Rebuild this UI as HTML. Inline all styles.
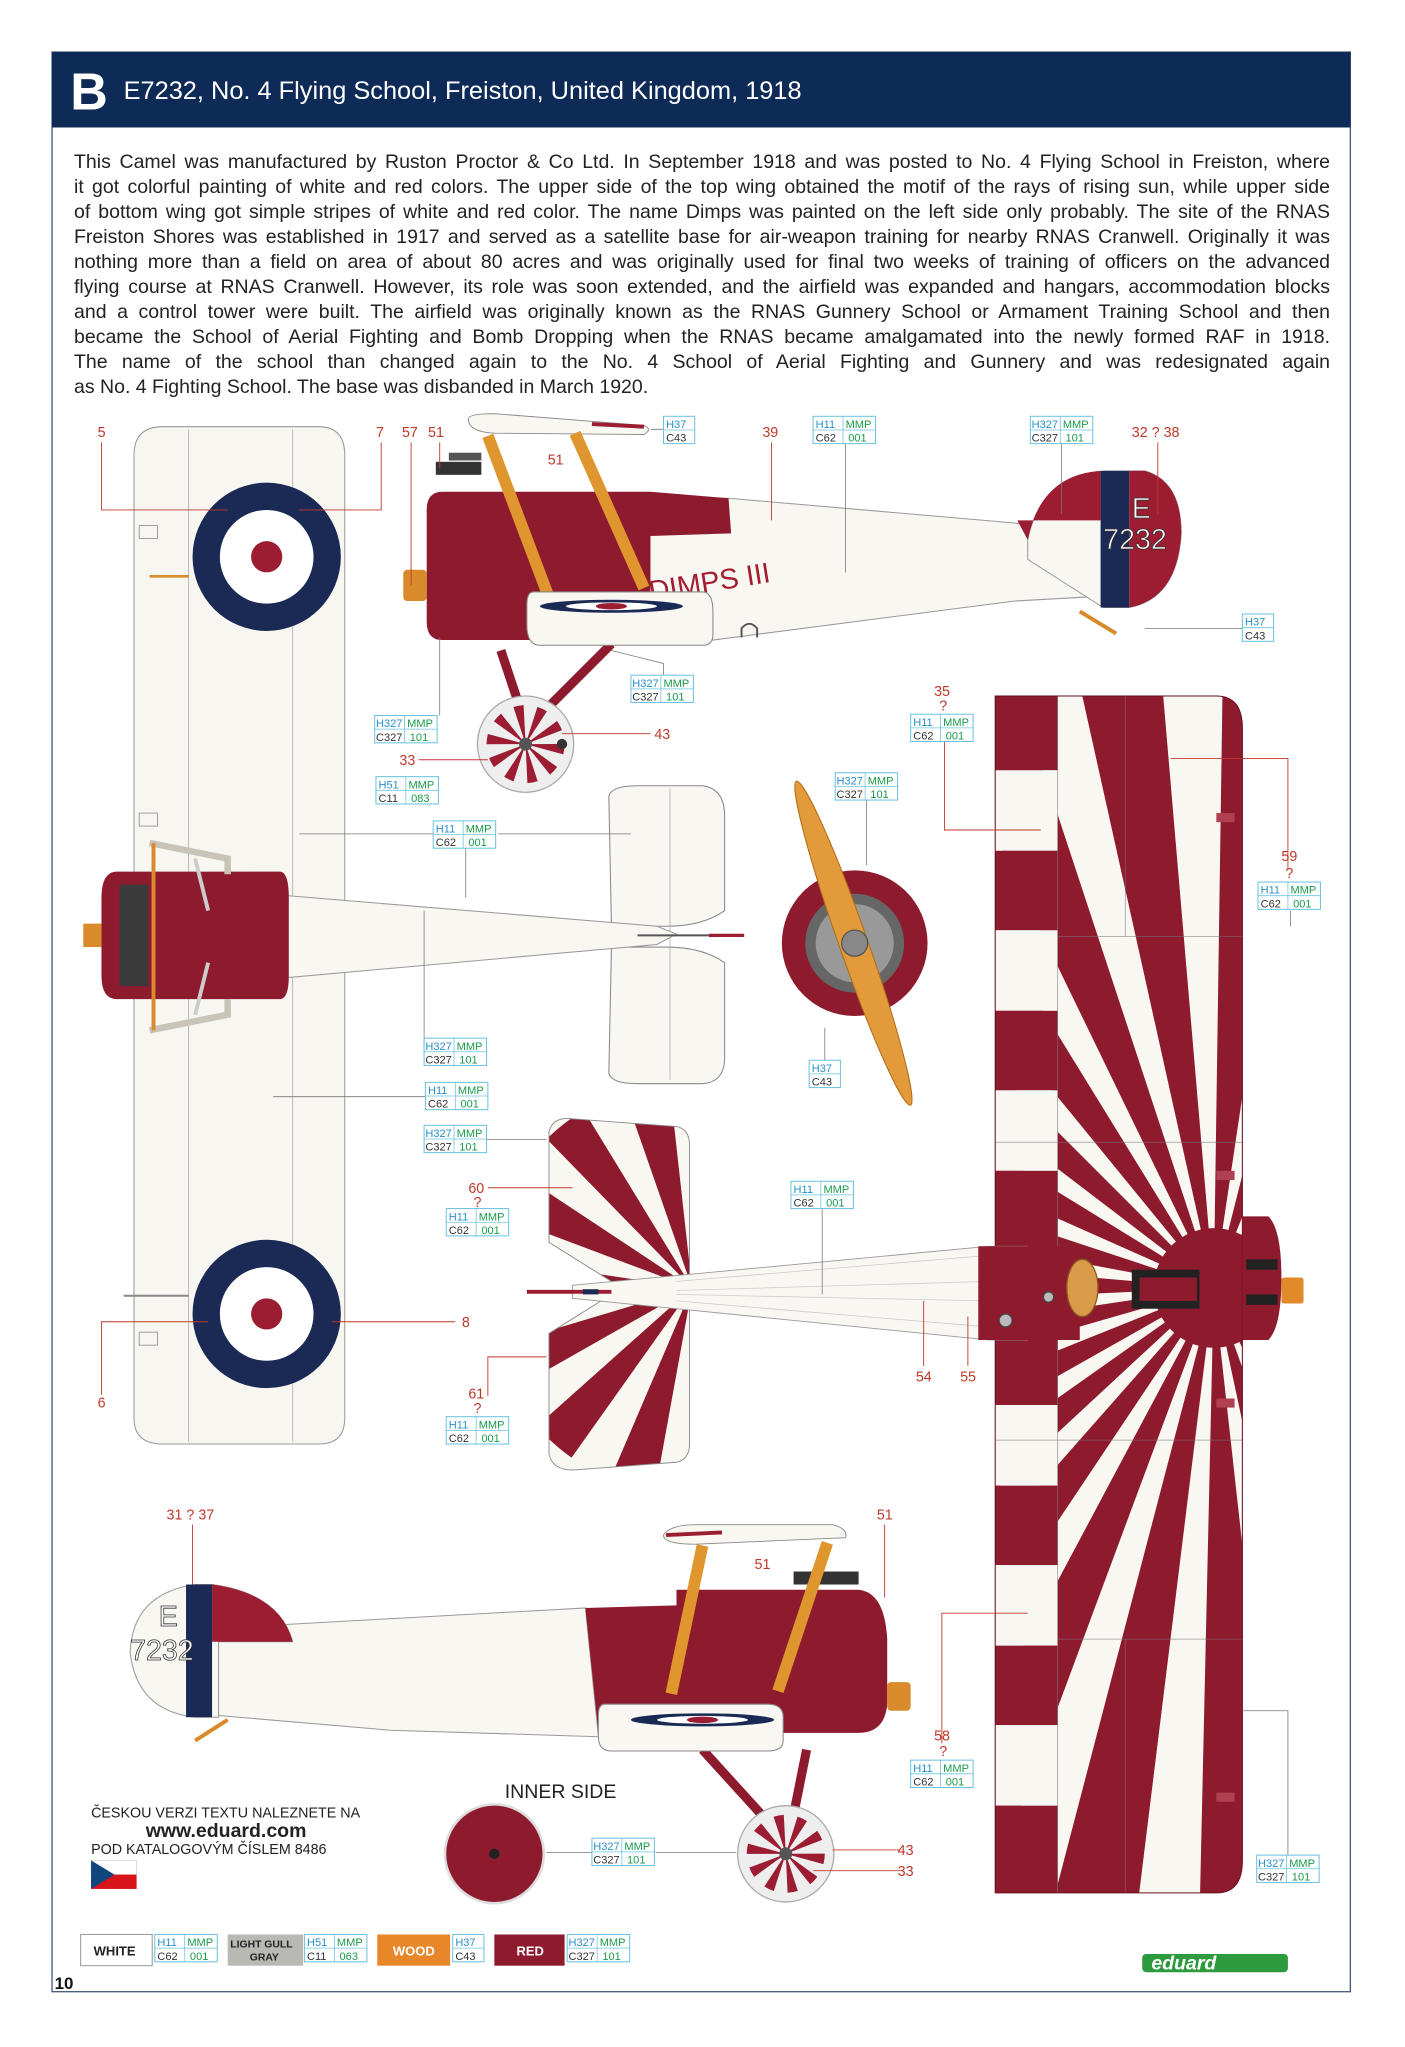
<!DOCTYPE html>
<html><head><meta charset="utf-8">
<style>
html,body{margin:0;padding:0;background:#fff;}
#wrap{position:relative;width:1405px;height:2047px;overflow:hidden;background:#fff;}
svg{position:absolute;left:0;top:0;}
#para{position:absolute;left:74px;top:150px;width:1256px;font-family:"Liberation Sans Narrow","Liberation Sans",sans-serif;font-size:19.5px;color:#222;line-height:25px;}
#para div{text-align:justify;text-align-last:justify;white-space:nowrap;}
#para div.last{text-align-last:left;}
</style></head><body><div id="wrap">
<svg width="1405" height="2047" viewBox="0 0 1080 1573.5" preserveAspectRatio="none" font-family="Liberation Sans, sans-serif">
<defs>
<clipPath id="bigwing"><path d="M765,535 H935 Q955,535 955,560 V1430 Q955,1455 935,1455 H765 Z"/></clipPath>
<clipPath id="lw1"><path d="M422,870 Q425,858 440,860 L520,866 Q530,868 530,880 V985 H470 L422,955 Z"/></clipPath>
<clipPath id="lw2"><path d="M422,1025 L470,995 H530 V1110 Q530,1122 520,1124 L440,1130 Q425,1130 422,1118 Z"/></clipPath>
<g id="cbox"><rect x="0" y="0" width="48" height="21" fill="#fff" stroke="#6cc4e0" stroke-width="0.8"/><line x1="0" y1="10.5" x2="48" y2="10.5" stroke="#6cc4e0" stroke-width="0.6"/><line x1="23" y1="0" x2="23" y2="21" stroke="#6cc4e0" stroke-width="0.6"/></g>
<g id="cbs"><rect x="0" y="0" width="24" height="21" fill="#fff" stroke="#6cc4e0" stroke-width="0.8"/><line x1="0" y1="10.5" x2="24" y2="10.5" stroke="#6cc4e0" stroke-width="0.6"/></g>
</defs>

<!-- frame & header -->
<rect x="40" y="40" width="998" height="1491" fill="none" stroke="#44557a" stroke-width="1"/>
<rect x="40" y="40" width="998" height="58" fill="#0e2a57"/>
<text x="54" y="84" fill="#fff" font-size="40" font-weight="bold">B</text>
<text x="95" y="76" fill="#fff" font-size="19.5" font-family="Liberation Sans Narrow, Liberation Sans, sans-serif">E7232, No. 4 Flying School, Freiston, United Kingdom, 1918</text>

<!-- ===== LEFT WING TOP VIEW ===== -->
<path d="M103,350 Q103,328 125,328 H245 Q265,328 265,350 V1090 Q265,1110 245,1110 H125 Q103,1110 103,1090 Z" fill="#f7f6f1" stroke="#999" stroke-width="0.8"/>
<path d="M145,330 V1108 M225,330 V1108" stroke="#aaa" stroke-width="0.6"/>
<rect x="107" y="404" width="14" height="10" fill="none" stroke="#888" stroke-width="0.6"/>
<rect x="107" y="625" width="14" height="10" fill="none" stroke="#888" stroke-width="0.6"/>
<rect x="107" y="1024" width="14" height="10" fill="none" stroke="#888" stroke-width="0.6"/>
<line x1="115" y1="443" x2="145" y2="443" stroke="#d98a2b" stroke-width="2"/>
<line x1="95" y1="996" x2="145" y2="996" stroke="#888" stroke-width="1.5"/>
<circle cx="205" cy="428" r="57" fill="#1b2a55"/><circle cx="205" cy="428" r="36" fill="#fff"/><circle cx="205" cy="428" r="12" fill="#9c1c32"/>
<circle cx="205" cy="1010" r="57" fill="#1b2a55"/><circle cx="205" cy="1010" r="36" fill="#fff"/><circle cx="205" cy="1010" r="12" fill="#9c1c32"/>

<!-- tailplane top view -->
<path d="M468,612 Q470,604 490,604 H540 Q556,606 557,625 V700 Q540,712 512,712 H470 Z" fill="#f8f7f2" stroke="#888" stroke-width="0.8"/>
<path d="M470,728 H512 Q540,728 557,740 V815 Q556,832 540,833 H490 Q470,833 468,825 Z" fill="#f8f7f2" stroke="#888" stroke-width="0.8"/>
<path d="M515,606 V830" stroke="#aaa" stroke-width="0.6"/>
<!-- fuselage top view -->
<path d="M215,688 L505,712 L520,718 L505,726 L215,752 Z" fill="#f8f7f2" stroke="#999" stroke-width="0.8"/>
<line x1="490" y1="719" x2="572" y2="719" stroke="#555" stroke-width="1.5"/>
<line x1="545" y1="719" x2="572" y2="719" stroke="#9c1c32" stroke-width="2.5"/>
<path d="M90,670 H215 Q222,670 222,690 V750 Q222,768 215,768 H90 Q78,768 78,750 V690 Q78,670 90,670 Z" fill="#8e1a2e"/>
<rect x="92" y="680" width="22" height="78" fill="#3a3a3a"/>
<rect x="64" y="710" width="14" height="18" fill="#d98a2b"/>
<path d="M115,648 L175,660 L175,672 M115,792 L175,780 L175,768" stroke="#c9c4b8" stroke-width="5" fill="none"/>
<line x1="118" y1="648" x2="118" y2="792" stroke="#d98a2b" stroke-width="3"/>
<line x1="150" y1="660" x2="160" y2="700" stroke="#ccc" stroke-width="3"/>
<line x1="150" y1="780" x2="160" y2="740" stroke="#ccc" stroke-width="3"/>

<!-- ===== TOP SIDE VIEW ===== -->
<path d="M495,384 L560,383 L780,402 L852,414 L852,458 L780,462 L548,492 L495,490 Z" fill="#f8f7f2" stroke="#999" stroke-width="0.8"/>
<path d="M340,378 H500 L560,383 L562,410 L500,412 L500,492 H340 Q328,492 328,478 V392 Q328,378 340,378 Z" fill="#8e1a2e"/>
<rect x="310" y="438" width="18" height="24" rx="3" fill="#d98a2b"/>
<rect x="335" y="355" width="35" height="10" fill="#333"/>
<rect x="345" y="348" width="25" height="6" fill="#555"/>
<text x="500" y="462" fill="#a41c30" font-size="22" transform="rotate(-9 500 462)" font-family="Liberation Sans Narrow, Liberation Sans, sans-serif">DIMPS III</text>
<path d="M360,322 Q360,318 380,318 L495,327 Q502,330 495,334 L380,333 Q360,332 360,322 Z" fill="#f8f7f2" stroke="#888" stroke-width="0.7"/>
<path d="M455,326 L495,328" stroke="#9c1c32" stroke-width="3"/>
<line x1="375" y1="335" x2="423" y2="462" stroke="#e0962e" stroke-width="9"/>
<line x1="442" y1="333" x2="495" y2="452" stroke="#e0962e" stroke-width="9"/>
<line x1="385" y1="500" x2="400" y2="545" stroke="#8e1a2e" stroke-width="7"/>
<line x1="470" y1="495" x2="420" y2="545" stroke="#8e1a2e" stroke-width="7"/>
<path d="M410,455 H540 Q548,455 548,470 V488 Q548,496 540,496 H415 Q405,496 405,480 V465 Q405,455 410,455 Z" fill="#f8f7f2" stroke="#888" stroke-width="0.8"/>
<ellipse cx="470" cy="466" rx="55" ry="5" fill="#1b2a55"/><ellipse cx="470" cy="466" rx="35" ry="3" fill="#fff"/><ellipse cx="470" cy="466" rx="12" ry="2.5" fill="#9c1c32"/>
<path d="M570,490 V483 Q576,476 582,483 V490" fill="none" stroke="#555" stroke-width="1.5"/>
<!-- wheel -->
<circle cx="404" cy="572" r="37" fill="#eee" stroke="#aaa" stroke-width="1"/>
<circle cx="404" cy="572" r="15" fill="none" stroke="#9c1c32" stroke-width="30" stroke-dasharray="4 5.4"/>
<circle cx="404" cy="572" r="5" fill="#555"/>
<circle cx="432" cy="572" r="4" fill="#333"/>
<!-- rudder -->
<path d="M790,415 Q800,365 850,362 H880 Q908,370 908,410 Q905,460 868,467 H848 L790,430 Z" fill="#f8f7f2" stroke="#999" stroke-width="0.8"/>
<path d="M790,415 Q800,365 846,362 V400 H782 Z" fill="#9c1c32"/>
<rect x="846" y="362" width="22" height="105" fill="#1b2a55"/>
<path d="M868,362 H880 Q908,370 908,410 Q905,460 868,467 Z" fill="#9c1c32"/>
<text x="870" y="398" fill="#fff" font-size="22" stroke="#333" stroke-width="0.6">E</text>
<text x="848" y="422" fill="#fff" font-size="22" stroke="#333" stroke-width="0.6" font-family="Liberation Sans Narrow, Liberation Sans, sans-serif">7232</text>
<line x1="830" y1="470" x2="858" y2="487" stroke="#d98a2b" stroke-width="3"/>

<!-- propeller front -->
<circle cx="657" cy="725" r="56" fill="#8e1a2e"/>
<circle cx="657" cy="725" r="38" fill="#666"/>
<circle cx="657" cy="725" r="30" fill="#999"/>
<ellipse cx="656" cy="725" rx="132" ry="11" fill="#e39a3a" stroke="#b06d1a" stroke-width="0.8" transform="rotate(70.6 656 725)"/>
<circle cx="657" cy="725" r="10" fill="#888" stroke="#555"/>

<!-- ===== BIG WING ===== -->
<g clip-path="url(#bigwing)">
<rect x="765" y="535" width="190" height="920" fill="#8e1a2e"/>
<circle cx="933" cy="990" r="300" fill="none" stroke="#f8f7f2" stroke-width="600" stroke-dasharray="30 40" stroke-dashoffset="12"/>
<circle cx="933" cy="990" r="46" fill="#8e1a2e"/>
<g fill="#f8f7f2">
<rect x="765" y="592" width="48" height="62"/><rect x="765" y="715" width="48" height="62"/><rect x="765" y="838" width="48" height="62"/>
<rect x="765" y="1080" width="48" height="62"/><rect x="765" y="1203" width="48" height="62"/><rect x="765" y="1326" width="48" height="62"/>
</g>
<g fill="#8e1a2e">
<rect x="765" y="535" width="48" height="57"/><rect x="765" y="654" width="48" height="61"/><rect x="765" y="777" width="48" height="61"/><rect x="765" y="900" width="48" height="180"/>
<rect x="765" y="1142" width="48" height="61"/><rect x="765" y="1265" width="48" height="61"/><rect x="765" y="1388" width="48" height="67"/>
</g>
<path d="M813,535 V1455 M865,535 V720 M865,1260 V1455 M813,720 H955 M813,1260 H955 M765,878 H955 M765,1107 H955" stroke="#777" stroke-width="0.6" opacity="0.7"/>
</g>
<path d="M765,535 H935 Q955,535 955,560 V1430 Q955,1455 935,1455 H765 Z" fill="none" stroke="#6a1020" stroke-width="0.8"/>
<rect x="935" y="625" width="14" height="7" fill="#b04050"/><rect x="935" y="900" width="14" height="7" fill="#b04050"/><rect x="935" y="1075" width="14" height="7" fill="#b04050"/><rect x="935" y="1378" width="14" height="7" fill="#b04050"/>
<path d="M955,935 H975 Q985,945 985,982 Q985,1020 975,1030 H955 Z" fill="#8e1a2e"/>
<rect x="958" y="968" width="24" height="8" fill="#222"/><rect x="958" y="995" width="24" height="8" fill="#222"/>
<rect x="985" y="982" width="17" height="20" rx="2" fill="#e08a2a"/>
<rect x="870" y="976" width="52" height="30" fill="#222"/><rect x="876" y="982" width="44" height="18" fill="#8e1a2e"/>

<!-- lower wing bottom view -->
<g clip-path="url(#lw1)"><rect x="415" y="850" width="120" height="140" fill="#f8f7f2"/><circle cx="532" cy="990" r="80" fill="none" stroke="#8e1a2e" stroke-width="160" stroke-dasharray="18 17"/></g>
<g clip-path="url(#lw2)"><rect x="415" y="990" width="120" height="145" fill="#f8f7f2"/><circle cx="532" cy="990" r="80" fill="none" stroke="#8e1a2e" stroke-width="160" stroke-dasharray="18 17"/></g>
<path d="M422,870 Q425,858 440,860 L520,866 Q530,868 530,880 V985 H470 L422,955 Z M422,1025 L470,995 H530 V1110 Q530,1122 520,1124 L440,1130 Q425,1130 422,1118 Z" fill="none" stroke="#888" stroke-width="0.7"/>
<!-- bottom fuselage -->
<path d="M440,988 L760,958 L790,958 L790,1030 L760,1030 L440,998 Z" fill="#f8f7f2" stroke="#999" stroke-width="0.7"/>
<path d="M520,985 L760,965 M520,992 L760,985 M520,995 L760,1000 M520,1000 L760,1020" stroke="#ccc" stroke-width="0.6"/>
<line x1="405" y1="993" x2="470" y2="993" stroke="#9c1c32" stroke-width="3"/><line x1="448" y1="993" x2="460" y2="993" stroke="#1b2a55" stroke-width="4"/>
<path d="M752,958 H830 V1030 H752 Z" fill="#8e1a2e"/>
<circle cx="806" cy="997" r="4" fill="#bbb" stroke="#444"/><circle cx="773" cy="1015" r="5" fill="#bbb" stroke="#444"/>
<ellipse cx="832" cy="990" rx="12" ry="22" fill="#d99a4a" stroke="#8a5a20"/>

<!-- ===== BOTTOM SIDE VIEW ===== -->
<path d="M160,1252 L450,1236 L460,1335 L300,1330 L160,1318 Z" fill="#f8f7f2" stroke="#999" stroke-width="0.8"/>
<path d="M450,1236 L520,1234 V1222 H660 Q680,1224 682,1260 V1310 Q680,1332 660,1332 H460 Z" fill="#8e1a2e"/>
<rect x="682" y="1293" width="18" height="22" rx="3" fill="#d98a2b"/>
<rect x="610" y="1208" width="50" height="10" fill="#333"/>
<path d="M510,1180 Q515,1172 535,1172 L640,1172 Q652,1175 650,1182 L535,1187 Q510,1187 510,1180 Z" fill="#f8f7f2" stroke="#888" stroke-width="0.7"/>
<path d="M512,1180 L555,1178" stroke="#9c1c32" stroke-width="3"/>
<line x1="540" y1="1188" x2="516" y2="1302" stroke="#e0962e" stroke-width="9"/>
<line x1="636" y1="1186" x2="598" y2="1300" stroke="#e0962e" stroke-width="9"/>
<line x1="540" y1="1345" x2="590" y2="1400" stroke="#8e1a2e" stroke-width="7"/>
<line x1="620" y1="1345" x2="610" y2="1395" stroke="#8e1a2e" stroke-width="7"/>
<path d="M465,1310 H590 Q602,1310 602,1320 V1338 Q602,1346 590,1346 H470 Q460,1346 460,1335 V1318 Q460,1310 465,1310 Z" fill="#f8f7f2" stroke="#888" stroke-width="0.8"/>
<ellipse cx="540" cy="1322" rx="55" ry="5" fill="#1b2a55"/><ellipse cx="540" cy="1322" rx="35" ry="3" fill="#fff"/><ellipse cx="540" cy="1322" rx="12" ry="2.5" fill="#9c1c32"/>
<circle cx="604" cy="1425" r="37" fill="#eee" stroke="#aaa"/>
<circle cx="604" cy="1425" r="15" fill="none" stroke="#9c1c32" stroke-width="30" stroke-dasharray="4 5.4"/>
<circle cx="604" cy="1425" r="5" fill="#555"/>
<!-- rudder bottom -->
<path d="M163,1218 Q215,1225 225,1262 L168,1262 L168,1320 H150 Q105,1315 100,1270 Q102,1225 150,1218 Z" fill="#f8f7f2" stroke="#999" stroke-width="0.8"/>
<path d="M163,1218 Q215,1225 225,1262 H163 Z" fill="#9c1c32"/>
<rect x="143" y="1218" width="20" height="102" fill="#1b2a55"/>
<text x="122" y="1250" fill="#fff" font-size="22" stroke="#333" stroke-width="0.6">E</text>
<text x="100" y="1276" fill="#fff" font-size="22" stroke="#333" stroke-width="0.6" font-family="Liberation Sans Narrow, Liberation Sans, sans-serif">7232</text>
<line x1="150" y1="1338" x2="175" y2="1322" stroke="#d98a2b" stroke-width="3"/>

<!-- inner side wheel -->
<text x="388" y="1382" font-size="15" fill="#222">INNER SIDE</text>
<circle cx="380" cy="1425" r="38" fill="#8e1a2e" stroke="#ddd" stroke-width="2"/>
<circle cx="380" cy="1425" r="4" fill="#222"/>

<!-- Czech text -->
<text x="70" y="1397" font-size="11" fill="#222">ČESKOU VERZI TEXTU NALEZNETE NA</text>
<text x="112" y="1412" font-size="15" font-weight="bold" fill="#222">www.eduard.com</text>
<text x="70" y="1425" font-size="11" fill="#222">POD KATALOGOVÝM ČÍSLEM 8486</text>
<rect x="70" y="1430" width="35" height="11" fill="#fff" stroke="#ccc" stroke-width="0.5"/>
<rect x="70" y="1441" width="35" height="11" fill="#d7141a"/>
<path d="M70,1430 L88,1441 L70,1452 Z" fill="#11457e"/>

<!-- ===== LEADER LINES ===== -->
<g stroke="#c0392b" stroke-width="0.7" fill="none">
<path d="M78,340 V392 H175"/><path d="M293,340 V392 H230"/><path d="M316,340 V450"/><path d="M338,340 V360"/>
<path d="M593,340 V400"/><path d="M890,340 V395"/><path d="M726,550 V638 H800"/><path d="M990,668 V583 H900"/>
<path d="M500,564 H432"/><path d="M322,584 H375"/><path d="M375,913 H440"/><path d="M350,1016 H255"/>
<path d="M78,1072 V1016 H160"/><path d="M375,1073 V1043 H420"/><path d="M148,1172 V1218"/><path d="M680,1172 V1228"/>
<path d="M724,1340 V1240 H790"/><path d="M692,1422 H640"/><path d="M692,1438 H625"/><path d="M710,1050 V1000"/><path d="M744,1050 V1012"/>
</g>
<g stroke="#777" stroke-width="0.6" fill="none">
<path d="M534,330 H500"/><path d="M650,341 V440"/><path d="M816,341 V395"/><path d="M955,483 H880"/><path d="M510,519 V510 L470,500"/>
<path d="M338,550 V490"/><path d="M666,594 V665"/><path d="M358,641 V690 M333,641 H230 M383,641 H485"/>
<path d="M992,700 V712"/><path d="M326,808 V700"/><path d="M634,815 V790"/><path d="M327,843 H210"/><path d="M374,876 H420"/>
<path d="M632,918 V995"/><path d="M355,940 V950"/><path d="M726,1365 V1370"/><path d="M504,1424 H566"/><path d="M990,1426 V1315 H955"/><path d="M420,1424 H455"/>
</g>

<!-- ===== RED NUMBERS ===== -->
<g fill="#c0392b" font-size="11">
<text x="75" y="336">5</text><text x="289" y="336">7</text><text x="309" y="336">57</text><text x="329" y="336">51</text>
<text x="421" y="357">51</text><text x="586" y="336">39</text><text x="870" y="336">32 ? 38</text>
<text x="718" y="535">35</text><text x="722" y="546">?</text><text x="503" y="568">43</text><text x="307" y="588">33</text>
<text x="985" y="662">59</text><text x="988" y="675">?</text><text x="360" y="917">60</text><text x="364" y="928">?</text>
<text x="355" y="1020">8</text><text x="75" y="1082">6</text><text x="360" y="1075">61</text><text x="364" y="1086">?</text>
<text x="704" y="1062">54</text><text x="738" y="1062">55</text><text x="128" y="1168">31 ? 37</text><text x="674" y="1168">51</text>
<text x="580" y="1206">51</text><text x="718" y="1338">58</text><text x="722" y="1350">?</text><text x="690" y="1426">43</text><text x="690" y="1442">33</text>
</g>

<!-- ===== CALLOUTS ===== -->
<g font-size="8.5" font-family="Liberation Sans, sans-serif">
<g transform="translate(510,320)"><use href="#cbs"/><text x="2" y="9" fill="#2a8fc8">H37</text><text x="2" y="19.5" fill="#333">C43</text></g>
<g transform="translate(625,320)"><use href="#cbox"/><text x="2" y="9" fill="#2a8fc8">H11</text><text x="25" y="9" fill="#1a9a4a">MMP</text><text x="2" y="19.5" fill="#333">C62</text><text x="27" y="19.5" fill="#1a9a4a">001</text></g>
<g transform="translate(792,320)"><use href="#cbox"/><text x="1" y="9" fill="#2a8fc8">H327</text><text x="25" y="9" fill="#1a9a4a">MMP</text><text x="1" y="19.5" fill="#333">C327</text><text x="27" y="19.5" fill="#1a9a4a">101</text></g>
<g transform="translate(955,472)"><use href="#cbs"/><text x="2" y="9" fill="#2a8fc8">H37</text><text x="2" y="19.5" fill="#333">C43</text></g>
<g transform="translate(485,519)"><use href="#cbox"/><text x="1" y="9" fill="#2a8fc8">H327</text><text x="25" y="9" fill="#1a9a4a">MMP</text><text x="1" y="19.5" fill="#333">C327</text><text x="27" y="19.5" fill="#1a9a4a">101</text></g>
<g transform="translate(288,550)"><use href="#cbox"/><text x="1" y="9" fill="#2a8fc8">H327</text><text x="25" y="9" fill="#1a9a4a">MMP</text><text x="1" y="19.5" fill="#333">C327</text><text x="27" y="19.5" fill="#1a9a4a">101</text></g>
<g transform="translate(700,549)"><use href="#cbox"/><text x="2" y="9" fill="#2a8fc8">H11</text><text x="25" y="9" fill="#1a9a4a">MMP</text><text x="2" y="19.5" fill="#333">C62</text><text x="27" y="19.5" fill="#1a9a4a">001</text></g>
<g transform="translate(289,597)"><use href="#cbox"/><text x="2" y="9" fill="#2a8fc8">H51</text><text x="25" y="9" fill="#1a9a4a">MMP</text><text x="2" y="19.5" fill="#333">C11</text><text x="27" y="19.5" fill="#1a9a4a">083</text></g>
<g transform="translate(642,594)"><use href="#cbox"/><text x="1" y="9" fill="#2a8fc8">H327</text><text x="25" y="9" fill="#1a9a4a">MMP</text><text x="1" y="19.5" fill="#333">C327</text><text x="27" y="19.5" fill="#1a9a4a">101</text></g>
<g transform="translate(333,631)"><use href="#cbox"/><text x="2" y="9" fill="#2a8fc8">H11</text><text x="25" y="9" fill="#1a9a4a">MMP</text><text x="2" y="19.5" fill="#333">C62</text><text x="27" y="19.5" fill="#1a9a4a">001</text></g>
<g transform="translate(967,678)"><use href="#cbox"/><text x="2" y="9" fill="#2a8fc8">H11</text><text x="25" y="9" fill="#1a9a4a">MMP</text><text x="2" y="19.5" fill="#333">C62</text><text x="27" y="19.5" fill="#1a9a4a">001</text></g>
<g transform="translate(326,798)"><use href="#cbox"/><text x="1" y="9" fill="#2a8fc8">H327</text><text x="25" y="9" fill="#1a9a4a">MMP</text><text x="1" y="19.5" fill="#333">C327</text><text x="27" y="19.5" fill="#1a9a4a">101</text></g>
<g transform="translate(622,815)"><use href="#cbs"/><text x="2" y="9" fill="#2a8fc8">H37</text><text x="2" y="19.5" fill="#333">C43</text></g>
<g transform="translate(327,832)"><use href="#cbox"/><text x="2" y="9" fill="#2a8fc8">H11</text><text x="25" y="9" fill="#1a9a4a">MMP</text><text x="2" y="19.5" fill="#333">C62</text><text x="27" y="19.5" fill="#1a9a4a">001</text></g>
<g transform="translate(326,865)"><use href="#cbox"/><text x="1" y="9" fill="#2a8fc8">H327</text><text x="25" y="9" fill="#1a9a4a">MMP</text><text x="1" y="19.5" fill="#333">C327</text><text x="27" y="19.5" fill="#1a9a4a">101</text></g>
<g transform="translate(608,908)"><use href="#cbox"/><text x="2" y="9" fill="#2a8fc8">H11</text><text x="25" y="9" fill="#1a9a4a">MMP</text><text x="2" y="19.5" fill="#333">C62</text><text x="27" y="19.5" fill="#1a9a4a">001</text></g>
<g transform="translate(343,929)"><use href="#cbox"/><text x="2" y="9" fill="#2a8fc8">H11</text><text x="25" y="9" fill="#1a9a4a">MMP</text><text x="2" y="19.5" fill="#333">C62</text><text x="27" y="19.5" fill="#1a9a4a">001</text></g>
<g transform="translate(343,1089)"><use href="#cbox"/><text x="2" y="9" fill="#2a8fc8">H11</text><text x="25" y="9" fill="#1a9a4a">MMP</text><text x="2" y="19.5" fill="#333">C62</text><text x="27" y="19.5" fill="#1a9a4a">001</text></g>
<g transform="translate(700,1353)"><use href="#cbox"/><text x="2" y="9" fill="#2a8fc8">H11</text><text x="25" y="9" fill="#1a9a4a">MMP</text><text x="2" y="19.5" fill="#333">C62</text><text x="27" y="19.5" fill="#1a9a4a">001</text></g>
<g transform="translate(455,1413)"><use href="#cbox"/><text x="1" y="9" fill="#2a8fc8">H327</text><text x="25" y="9" fill="#1a9a4a">MMP</text><text x="1" y="19.5" fill="#333">C327</text><text x="27" y="19.5" fill="#1a9a4a">101</text></g>
<g transform="translate(966,1426)"><use href="#cbox"/><text x="1" y="9" fill="#2a8fc8">H327</text><text x="25" y="9" fill="#1a9a4a">MMP</text><text x="1" y="19.5" fill="#333">C327</text><text x="27" y="19.5" fill="#1a9a4a">101</text></g>

<!-- legend -->
<rect x="62" y="1487" width="55" height="24" fill="#fff" stroke="#999" stroke-width="0.8"/>
<text x="72" y="1503" font-size="10" font-weight="bold" fill="#222">WHITE</text>
<g transform="translate(119,1487)"><use href="#cbox"/><text x="2" y="9" fill="#2a8fc8">H11</text><text x="25" y="9" fill="#1a9a4a">MMP</text><text x="2" y="19.5" fill="#333">C62</text><text x="27" y="19.5" fill="#1a9a4a">001</text></g>
<rect x="175" y="1487" width="58" height="24" fill="#b9b9b4"/>
<text x="177" y="1497" font-size="8" font-weight="bold" fill="#222">LIGHT GULL</text><text x="192" y="1507" font-size="8" font-weight="bold" fill="#222">GRAY</text>
<g transform="translate(234,1487)"><use href="#cbox"/><text x="2" y="9" fill="#2a8fc8">H51</text><text x="25" y="9" fill="#1a9a4a">MMP</text><text x="2" y="19.5" fill="#333">C11</text><text x="27" y="19.5" fill="#1a9a4a">063</text></g>
<rect x="290" y="1487" width="56" height="24" fill="#e8862a"/>
<text x="302" y="1503" font-size="10" font-weight="bold" fill="#fff">WOOD</text>
<g transform="translate(348,1487)"><use href="#cbs"/><text x="2" y="9" fill="#2a8fc8">H37</text><text x="2" y="19.5" fill="#333">C43</text></g>
<rect x="380" y="1487" width="54" height="24" fill="#8e1a2e"/>
<text x="397" y="1503" font-size="10" font-weight="bold" fill="#fff">RED</text>
<g transform="translate(436,1487)"><use href="#cbox"/><text x="1" y="9" fill="#2a8fc8">H327</text><text x="25" y="9" fill="#1a9a4a">MMP</text><text x="1" y="19.5" fill="#333">C327</text><text x="27" y="19.5" fill="#1a9a4a">101</text></g>
</g>

<text x="42" y="1529" font-size="13" font-weight="bold" fill="#111">10</text>
<rect x="878" y="1502" width="112" height="14" rx="3" fill="#2e9a3e"/>
<text x="885" y="1514" font-size="15" font-weight="bold" fill="#fff" font-style="italic">eduard</text>
</svg>

<div id="para">
<div>This Camel was manufactured by Ruston Proctor &amp; Co Ltd. In September 1918 and was posted to No. 4 Flying School in Freiston, where</div>
<div>it got colorful painting of white and red colors. The upper side of the top wing obtained the motif of the rays of rising sun, while upper side</div>
<div>of bottom wing got simple stripes of white and red color. The name Dimps was painted on the left side only probably. The site of the RNAS</div>
<div>Freiston Shores was established in 1917 and served as a satellite base for air-weapon training for nearby RNAS Cranwell. Originally it was</div>
<div>nothing more than a field on area of about 80 acres and was originally used for final two weeks of training of officers on the advanced</div>
<div>flying course at RNAS Cranwell. However, its role was soon extended, and the airfield was expanded and hangars, accommodation blocks</div>
<div>and a control tower were built. The airfield was originally known as the RNAS Gunnery School or Armament Training School and then</div>
<div>became the School of Aerial Fighting and Bomb Dropping when the RNAS became amalgamated into the newly formed RAF in 1918.</div>
<div>The name of the school than changed again to the No. 4 School of Aerial Fighting and Gunnery and was redesignated again</div>
<div class="last">as No. 4 Fighting School. The base was disbanded in March 1920.</div>
</div>
</div></body></html>
